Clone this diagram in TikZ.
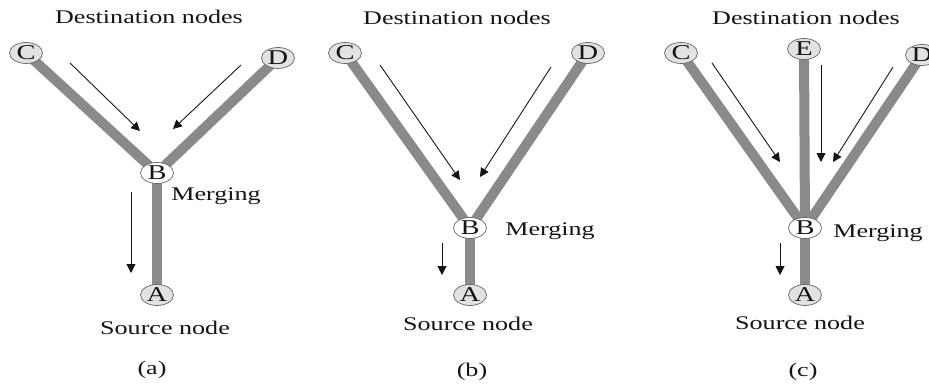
\documentclass[tikz,border=0pt]{standalone}
\usepackage{fontspec}
\usepackage{graphicx}
\setmainfont{Liberation Serif}
\usetikzlibrary{arrows.meta,shapes.geometric,backgrounds}

\definecolor{pipegray}{RGB}{138,138,138}
\definecolor{nodegray}{RGB}{226,226,226}
\definecolor{inkgray}{RGB}{20,20,20}
\newcommand{\wide}[1]{\scalebox{1.35}[1]{#1}}

\begin{document}
\begin{tikzpicture}[
    x=0.02cm,y=-0.02cm,
    site/.style={draw=inkgray!65,ellipse,fill=nodegray,minimum width=0.66cm,minimum height=0.42cm,inner sep=0pt,font=\fontsize{12}{13}\selectfont,text=inkgray},
    merge/.style={site,fill=white},
    pipe/.style={pipegray,line width=0.2cm},
    flow/.style={-{Triangle[length=5pt,width=5pt]},inkgray,line width=0.5pt},
    caption/.style={font=\fontsize{11}{12}\selectfont,text=inkgray}
]
\useasboundingbox (0,0) rectangle (929,384);
\clip (0,0) rectangle (929,384);

% (a) two destinations
\node[site] (Ca) at (26,53) {\wide{C}};
\node[site] (Da) at (278,58) {\wide{D}};
\node[merge] (Ba) at (157,173) {\wide{B}};
\node[site] (Aa) at (157,295) {\wide{A}};
\node[caption] (desta) at (149,17) {\wide{Destination nodes}};
\node[caption] (mergea) at (216,196) {\wide{Merging}};
\node[caption] (srca) at (165,328) {\wide{Source node}};
\node[caption] (capa) at (152,370) {\wide{(a)}};
\begin{scope}[on background layer]
\draw[pipe] (Ca.center) -- (Ba.center);
\draw[pipe] (Da.center) -- (Ba.center);
\draw[pipe] (Ba.center) -- (Aa.center);
\end{scope}
\coordinate (fa1) at (70,63);   \coordinate (ta1) at (140,131);
\coordinate (fa2) at (241,65);  \coordinate (ta2) at (173,129);
\coordinate (fa3) at (131,192); \coordinate (ta3) at (131,273);
\draw[flow] (fa1) -- (ta1);
\draw[flow] (fa2) -- (ta2);
\draw[flow] (fa3) -- (ta3);

% (b) merging point moved down
\node[site] (Cb) at (345,53) {\wide{C}};
\node[site] (Db) at (588,53) {\wide{D}};
\node[merge] (Bb) at (470,228) {\wide{B}};
\node[site] (Ab) at (470,295) {\wide{A}};
\node[caption] (destb) at (457,18) {\wide{Destination nodes}};
\node[caption] (mergeb) at (550,231) {\wide{Merging}};
\node[caption] (srcb) at (468,324) {\wide{Source node}};
\node[caption] (capb) at (472,372) {\wide{(b)}};
\begin{scope}[on background layer]
\draw[pipe] (Cb.center) -- (Bb.center);
\draw[pipe] (Db.center) -- (Bb.center);
\draw[pipe] (Bb.center) -- (Ab.center);
\end{scope}
\coordinate (fb1) at (380,65);  \coordinate (tb1) at (460,180);
\coordinate (fb2) at (551,67);  \coordinate (tb2) at (480,177);
\coordinate (fb3) at (442,243); \coordinate (tb3) at (442,275);
\draw[flow] (fb1) -- (tb1);
\draw[flow] (fb2) -- (tb2);
\draw[flow] (fb3) -- (tb3);

% (c) three destinations
\node[site] (Cc) at (681,53) {\wide{C}};
\node[site] (Ec) at (804,49) {\wide{E}};
\node[site] (Dc) at (922,55) {\wide{D}};
\node[merge] (Bc) at (805,228) {\wide{B}};
\node[site] (Ac) at (805,295) {\wide{A}};
\node[caption] (destc) at (806,18) {\wide{Destination nodes}};
\node[caption] (mergec) at (878,233) {\wide{Merging}};
\node[caption] (srcc) at (800,323) {\wide{Source node}};
\node[caption] (capc) at (803,372) {\wide{(c)}};
\begin{scope}[on background layer]
\draw[pipe] (Cc.center) -- (Bc.center);
\draw[pipe] (Ec.center) -- (Bc.center);
\draw[pipe] (Dc.center) -- (Bc.center);
\draw[pipe] (Bc.center) -- (Ac.center);
\end{scope}
\coordinate (fc1) at (712,63);  \coordinate (tc1) at (780,162);
\coordinate (fc2) at (821,65);  \coordinate (tc2) at (821,162);
\coordinate (fc3) at (893,67);  \coordinate (tc3) at (833,162);
\coordinate (fc4) at (780,243); \coordinate (tc4) at (780,275);
\draw[flow] (fc1) -- (tc1);
\draw[flow] (fc2) -- (tc2);
\draw[flow] (fc3) -- (tc3);
\draw[flow] (fc4) -- (tc4);

\end{tikzpicture}
\end{document}
